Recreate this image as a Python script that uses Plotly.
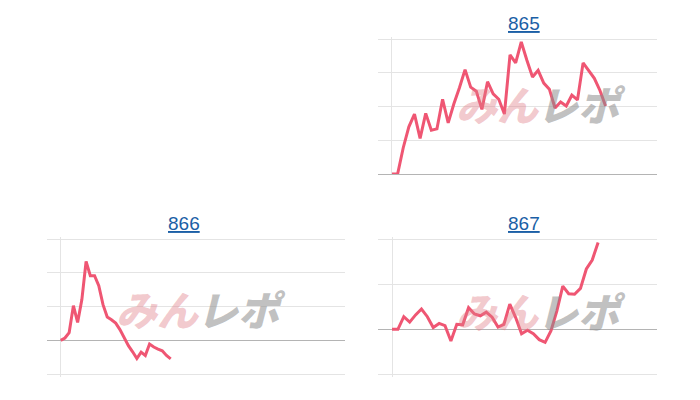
import plotly.graph_objects as go

# ---- data (percent change from first point) ----
titles = ["865", "866", "867"]
days_865 = list(range(39))
vals_865 = [0, 0, 3.9, 7.0, 8.9, 5.3, 9.0, 6.5, 6.7, 11.1, 7.6, 10.4, 12.8, 15.5, 12.9,
            12.3, 9.6, 13.7, 11.9, 11.1, 8.9, 17.7, 16.5, 19.6, 16.9, 14.4, 15.4, 13.5,
            12.6, 9.8, 10.7, 10.1, 11.7, 11.0, 16.5, 15.4, 14.2, 12.4, 10.1]
days_866 = list(range(27))
vals_866 = [0, 0.7, 2.3, 10.3, 5.3, 12.1, 23.4, 19.2, 19.2, 16.2, 10.6, 6.9, 6.1, 5.1,
            3.2, 0.7, -1.6, -3.4, -5.4, -3.5, -4.5, -1.1, -2.0, -2.6, -3.1, -4.5, -5.5]
days_867 = list(range(36))
vals_867 = [0, 0, 5.6, 3.2, 6.4, 9.0, 5.6, 0.8, 2.6, 1.6, -5.2, 2.2, 2.0, 9.6, 6.8, 6.0,
            7.6, 5.4, 1.0, 2.2, 11.2, 5.2, -2.0, -0.4, -2.0, -4.6, -5.8, -0.6, 8.2, 19.2,
            15.8, 15.6, 18.2, 26.8, 30.8, 38.6]

LINE = "#ef5673"
GRID = "#e4e4e4"
ZERO = "#b4b4b4"
OFF = 8                      # default page margin around the plot div
W, H = 700 - OFF, 400 - OFF
PAD = 2.5                    # keep edge gridlines inside the plot area

panels = [
    # (xs, ys, xrange, yrange, dtick, page box [x0,x1,ytop,ybottom], title x, watermark x, pad bottom)
    (days_865, vals_865, [-2.49, 47.15], [0, 20], 5, (378, 657, 39.3, 174), 523.5, 497.5, False),
    (days_866, vals_866, [-3.24, 67.2], [-10, 30], 10, (47, 345, 239.3, 374), 184, 157.5, True),
    (days_867, vals_867, [-2.38, 45.0], [-20, 40], 20, (378, 657, 239.3, 374.3), 523.5, 497.5, True),
]
wm_dy = [-4, 1, 3]


def px(v):
    return (v - OFF) / W


def py(v):
    return 1 - (v - OFF) / H


fig = go.Figure()
for k, (xs, ys, xr, yr, dt, box, tx, wx, padb) in enumerate(panels):
    n = "" if k == 0 else str(k + 1)
    x0, x1, yt, yb = box
    upp = (yr[1] - yr[0]) / (yb - yt)
    top_pad = PAD
    bot_pad = PAD if padb else 0
    yrange = [yr[0] - bot_pad * upp, yr[1] + top_pad * upp]
    fig.add_trace(go.Scatter(x=xs, y=ys, mode="lines", xaxis="x" + n, yaxis="y" + n,
                             line=dict(color=LINE, width=3), hoverinfo="skip",
                             showlegend=False))
    fig.layout["xaxis" + n] = dict(domain=[px(x0), px(x1)], range=xr, showgrid=False,
                                   showticklabels=False, zeroline=True,
                                   zerolinecolor=GRID, zerolinewidth=1,
                                   anchor="y" + n, fixedrange=True)
    fig.layout["yaxis" + n] = dict(domain=[py(yb + bot_pad), py(yt - top_pad)],
                                   range=yrange, dtick=dt,
                                   tick0=0, showgrid=True, gridcolor=GRID, gridwidth=1,
                                   showticklabels=False, zeroline=True,
                                   zerolinecolor=ZERO, zerolinewidth=1,
                                   anchor="x" + n, fixedrange=True)
    # title link
    fig.add_annotation(text="<u>" + titles[k] + "</u>", x=px(tx), y=py(yt - 16),
                       xref="paper", yref="paper", xanchor="center", yanchor="middle",
                       showarrow=False,
                       font=dict(family="Liberation Sans, Arial", size=19, color="#1b5fa6"))
    # watermark
    wy = (yt + yb) / 2 + wm_dy[k]
    fig.add_annotation(text="みん", x=px(wx), y=py(wy), xref="paper", yref="paper",
                       xanchor="center", yanchor="middle", showarrow=False,
                       font=dict(family="Noto Sans CJK JP", size=41, weight=900,
                                 style="italic", color="rgba(225,125,135,0.42)"))
    fig.add_annotation(text="レポ", x=px(wx + 84), y=py(wy), xref="paper",
                       yref="paper", xanchor="center", yanchor="middle", showarrow=False,
                       font=dict(family="Noto Sans CJK JP", size=41, weight=900,
                                 style="italic", color="rgba(140,140,140,0.55)"))

fig.update_layout(width=W, height=H, margin=dict(l=0, r=0, t=0, b=0),
                  paper_bgcolor="white", plot_bgcolor="white")
fig.write_html("out.html")
